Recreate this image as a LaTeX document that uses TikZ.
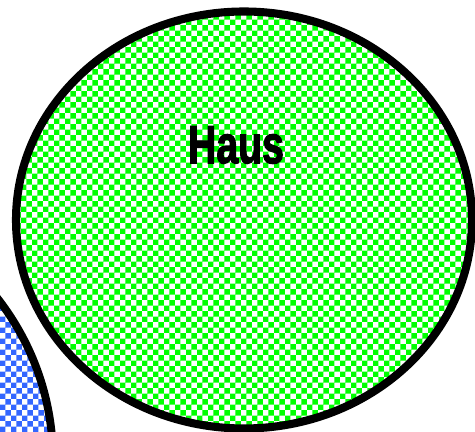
\documentclass[tikz,border=0pt]{standalone}
\usepackage{fontspec}
\usetikzlibrary{patterns}
\newfontfamily\hausfont{Liberation Sans}[BoldFeatures={FakeBold=2.5}]

% Schachbrett etwas groesser als das eingebaute
\pgfdeclarepatternformonly{schach}{\pgfpointorigin}{\pgfqpoint{6.2pt}{6.2pt}}{\pgfqpoint{6.2pt}{6.2pt}}{
  \pgfpathrectangle{\pgfpointorigin}{\pgfqpoint{3.12pt}{3.12pt}}
  \pgfpathrectangle{\pgfqpoint{3.1pt}{3.1pt}}{\pgfqpoint{3.12pt}{3.12pt}}
  \pgfusepath{fill}}

\definecolor{hausgruen}{RGB}{0,255,0}
\definecolor{kreisblau}{RGB}{51,102,255}

\begin{document}
\begin{tikzpicture}
                        \useasboundingbox (0,0) rectangle (9.5,8.64);

                        % Blauer Kreis unten links
                        \draw[line width=4.5pt, pattern=schach, pattern color=kreisblau] (-4.2,-0.56) circle (5.26);

                        % Gruene Ellipse
                        \draw[line width=4.6pt, pattern=schach, pattern color=hausgruen] (4.88,4.24) ellipse (4.56 and 4.17);

                        % Beschriftung
                        \node (haus) at (4.72,5.74) {\scalebox{0.77}[1.05]{\hausfont\bfseries\fontsize{29}{29}\selectfont Haus}};
                    \end{tikzpicture}
\end{document}
